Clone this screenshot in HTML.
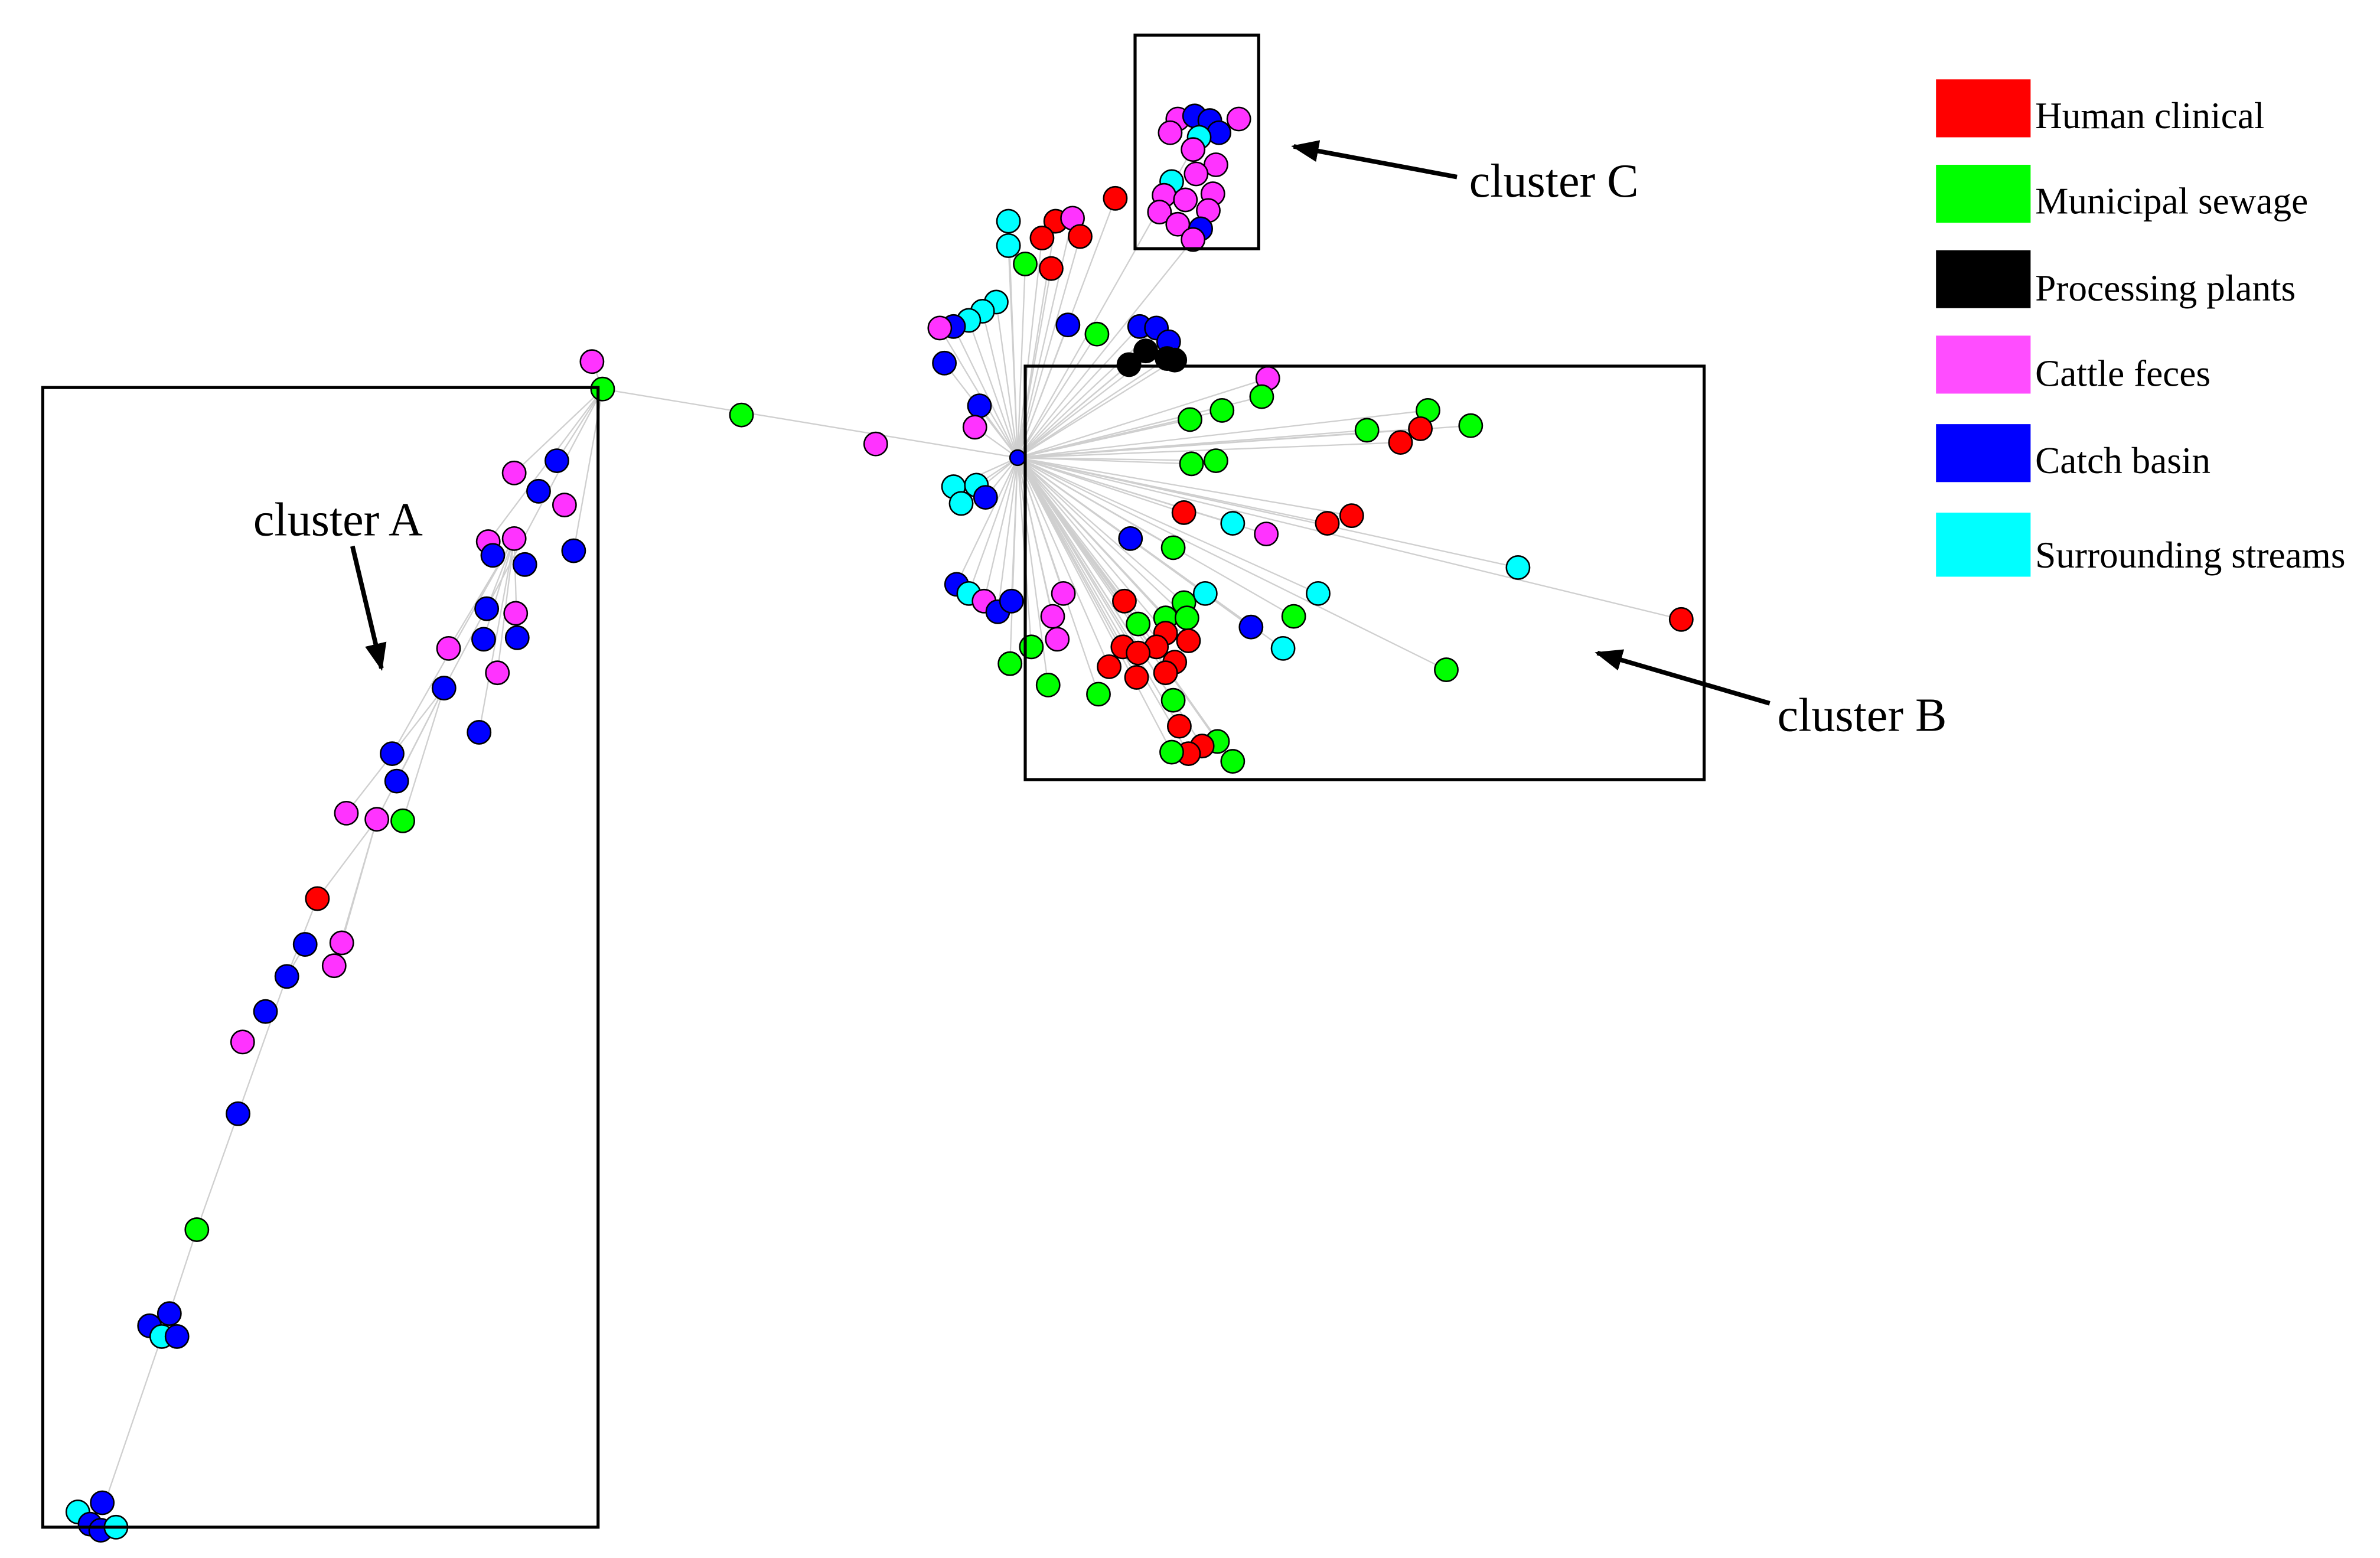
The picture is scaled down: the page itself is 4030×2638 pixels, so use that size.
<!DOCTYPE html>
<html><head><meta charset="utf-8"><style>
html,body{margin:0;padding:0;background:#fff;}
svg{display:block;}
text{font-family:"Liberation Serif",serif;fill:#000;}
</style></head><body>
<svg id="s" width="4030" height="2638" viewBox="0 0 1560 1021.2" xmlns="http://www.w3.org/2000/svg">
<rect width="1560" height="1022" fill="#fff"/>
<g id="edges" stroke="#cfcfcf" stroke-width="0.9" fill="none"></g>
<g id="nodes" stroke="#000" stroke-width="1"></g>
<g fill="none" stroke="#000" stroke-width="2">
<rect x="28" y="254" width="364" height="747"/>
<rect x="672" y="240" width="445" height="271"/>
<rect x="744" y="23" width="81" height="140"/>
</g>
<defs><marker id="ar" viewBox="0 0 10 10" refX="9" refY="5" markerWidth="6" markerHeight="6" orient="auto"><path d="M0,1 L10,5 L0,9 z" fill="#000"/></marker></defs>
<g stroke="#000" stroke-width="3" marker-end="url(#ar)">
<line x1="231" y1="358" x2="250" y2="438"/>
<line x1="955" y1="116" x2="848" y2="96"/>
<line x1="1160" y1="461" x2="1047" y2="428"/>
</g>
<text x="166" y="351" font-size="31">cluster A</text>
<text x="963" y="129" font-size="31">cluster C</text>
<text x="1165" y="479" font-size="31">cluster B</text>
<rect x="1269" y="52" width="62" height="38" fill="#f00"/>
<rect x="1269" y="108" width="62" height="38" fill="#0f0"/>
<rect x="1269" y="164" width="62" height="38" fill="#000"/>
<rect x="1269" y="220" width="62" height="38" fill="#ff4dff"/>
<rect x="1269" y="278" width="62" height="38" fill="#00f"/>
<rect x="1269" y="336" width="62" height="42" fill="#0ff"/>
<g font-size="24.5">
<text x="1334" y="84">Human clinical</text>
<text x="1334" y="140">Municipal sewage</text>
<text x="1334" y="197">Processing plants</text>
<text x="1334" y="253">Cattle feces</text>
<text x="1334" y="310">Catch basin</text>
<text x="1334" y="372">Surrounding streams</text>
</g>
</svg>
<script>
var C={r:"#f00",g:"#0f0",k:"#000",m:"#ff33ff",b:"#0000ff",c:"#00ffff"};
var N=[
[395,255,"g"],[388,237,"m"],[486,272,"g"],[574,291,"m"],[667,300,"b"],
[365,302,"b"],[337,310,"m"],[353,322,"b"],[370,331,"m"],[376,361,"b"],[320,355,"m"],[337,353,"m"],[323,364,"b"],[344,370,"b"],[319,399,"b"],[338,402,"m"],[317,419,"b"],[339,418,"b"],[294,425,"m"],[326,441,"m"],[291,451,"b"],[314,480,"b"],[257,494,"b"],[260,512,"b"],[227,533,"m"],[247,537,"m"],[264,538,"g"],[208,589,"r"],[224,618,"m"],[200,619,"b"],[219,633,"m"],[188,640,"b"],[174,663,"b"],[159,683,"m"],[156,730,"b"],[129,806,"g"],[98,869,"b"],[111,861,"b"],[106,876,"c"],[116,876,"b"],[51,991,"c"],[67,985,"b"],[59,999,"b"],[66,1003,"b"],[76,1001,"c"],
[661,145,"c"],[661,161,"c"],[672,173,"g"],[692,145,"r"],[703,143,"m"],[683,156,"r"],[708,155,"r"],[689,176,"r"],[731,130,"r"],[653,198,"c"],[644,204,"c"],[635,210,"c"],[625,214,"b"],[616,215,"m"],[700,213,"b"],[619,238,"b"],[719,219,"g"],[642,266,"b"],[639,280,"m"],[625,319,"c"],[640,318,"c"],[630,330,"c"],[646,326,"b"],[627,383,"b"],[635,389,"c"],[645,394,"m"],[654,401,"b"],[663,394,"b"],[697,389,"m"],[690,404,"m"],[693,419,"m"],[662,435,"g"],[676,424,"g"],[687,449,"g"],
[747,214,"b"],[758,215,"b"],[766,224,"b"],[740,239,"k"],[751,230,"k"],[765,235,"k"],[770,236,"k"],
[772,78,"m"],[783,76,"b"],[793,79,"b"],[812,78,"m"],[799,87,"b"],[767,87,"m"],[786,90,"c"],[782,98,"m"],[797,108,"m"],[784,114,"m"],[768,119,"c"],[763,128,"m"],[777,131,"m"],[795,127,"m"],[792,138,"m"],[760,139,"m"],[772,147,"m"],[787,150,"b"],[782,157,"m"],
[831,248,"m"],[827,260,"g"],[801,269,"g"],[780,275,"g"],[797,302,"g"],[781,304,"g"],[896,282,"g"],[936,269,"g"],[931,281,"r"],[918,290,"r"],[964,279,"g"],[776,336,"r"],[808,343,"c"],[830,350,"m"],[870,343,"r"],[886,338,"r"],[995,372,"c"],[1102,406,"r"],[741,353,"b"],[769,359,"g"],[790,389,"c"],[776,395,"g"],[764,405,"g"],[746,409,"g"],[737,394,"r"],[778,405,"g"],[764,415,"r"],[758,424,"r"],[779,420,"r"],[736,424,"r"],[746,428,"r"],[727,437,"r"],[770,434,"r"],[764,441,"r"],[745,444,"r"],[720,455,"g"],[769,459,"g"],[773,476,"r"],[798,486,"g"],[788,489,"r"],[779,494,"r"],[768,493,"g"],[808,499,"g"],[820,411,"b"],[848,404,"g"],[864,389,"c"],[841,425,"c"],[948,439,"g"]
];
var ns="http://www.w3.org/2000/svg",E=document.getElementById("edges"),G=document.getElementById("nodes");
function L(a,b,c,d){var l=document.createElementNS(ns,"line");l.setAttribute("x1",a);l.setAttribute("y1",b);l.setAttribute("x2",c);l.setAttribute("y2",d);E.appendChild(l);}
var H=[667,300];
N.forEach(function(n){
 if(n[0]>600&&n[0]<1200&&n[1]<520&&!(n[0]==667&&n[1]==300)){
   if(n[1]<165&&n[0]>740&&!(n[0]==782&&n[1]==157)&&!(n[0]==786&&n[1]==90))return;
   L(H[0],H[1],n[0],n[1]);
 }
});
L(395,255,667,300);
[[365,302],[337,310],[320,355],[291,451],[376,361],[388,237]].forEach(function(p){L(395,255,p[0],p[1]);});
[[319,399],[317,419],[294,425],[257,494],[339,418],[326,441],[314,480]].forEach(function(p){L(337,353,p[0],p[1]);});
[[247,537],[227,533],[264,538],[260,512]].forEach(function(p){L(291,451,p[0],p[1]);});
[[208,589],[224,618],[219,633]].forEach(function(p){L(247,537,p[0],p[1]);});
L(208,589,188,640);L(188,640,156,730);L(156,730,129,806);L(129,806,106,876);L(106,876,67,990);L(188,640,200,619);
N.forEach(function(n){var c=document.createElementNS(ns,"circle");c.setAttribute("cx",n[0]);c.setAttribute("cy",n[1]);c.setAttribute("r",n[2]=="b"&&n[0]==667?5:7.6);c.setAttribute("fill",C[n[2]]);G.appendChild(c);});
</script>
</body></html>
